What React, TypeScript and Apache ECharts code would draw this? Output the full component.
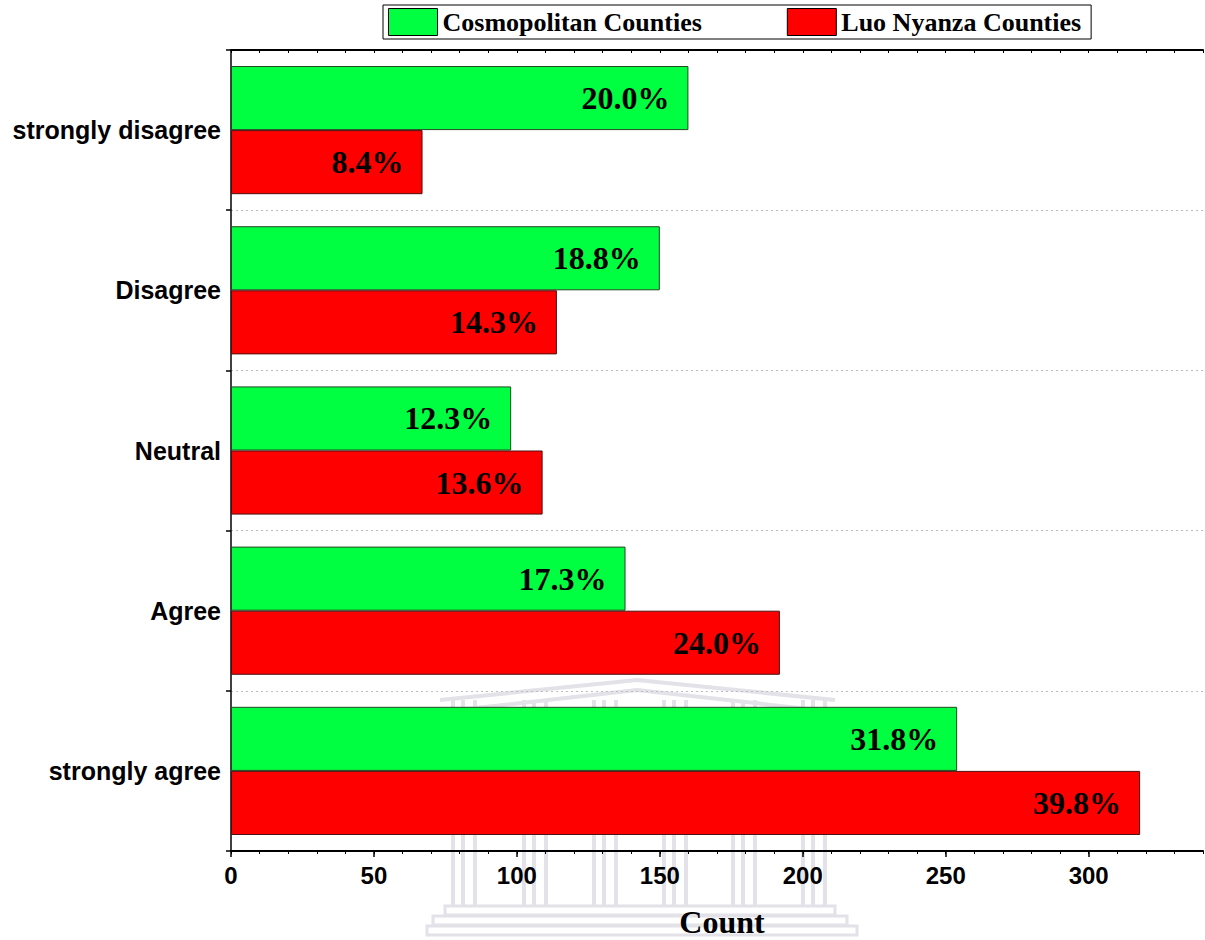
import React, { useEffect, useRef } from "react";
import * as echarts from "echarts";

// Response categories, top to bottom
const categories = ["strongly disagree", "Disagree", "Neutral", "Agree", "strongly agree"];
const seriesNames = ["Cosmopolitan Counties", "Luo Nyanza Counties"];
// Respondent counts per category
const cosmopolitanCounts = [160, 150, 98, 138, 254];
const luoNyanzaCounts = [67, 114, 109, 192, 318];
// Count axis
const axisMax = 340;
const majorTicks = [0, 50, 100, 150, 200, 250, 300];

const sum = (a: number[]) => a.reduce((s, v) => s + v, 0);

function percentLabel(values: number[]) {
  const total = sum(values);
  return (p: any) => (Math.round((p.value * 1000) / total) / 10).toFixed(1) + "%";
}

// Faint crest drawn behind the plot
function crest(): any[] {
  const stroke = "#e2e2e8";
  const els: any[] = [];
  els.push({
    type: "polyline",
    z: -5,
    shape: { points: [[440, 700], [637, 680], [835, 700]] },
    style: { stroke, lineWidth: 4, fill: "none" },
  });
  els.push({
    type: "polyline",
    z: -5,
    shape: { points: [[440, 712], [637, 690], [835, 712]] },
    style: { stroke, lineWidth: 4, fill: "none" },
  });
  const centers = [463, 534, 604, 674, 743, 813];
  centers.forEach((c) => {
    [-10, 0, 12].forEach((o) => {
      els.push({
        type: "rect",
        z: -5,
        shape: { x: c + o - 2, y: 700, width: 4, height: 205 },
        style: { fill: stroke },
      });
    });
  });
  const steps = [
    [445, 906, 390],
    [433, 916, 414],
    [427, 926, 430],
  ];
  steps.forEach(([x, y, w]) => {
    els.push({
      type: "rect",
      z: -5,
      shape: { x, y, width: w, height: 9 },
      style: { fill: "none", stroke, lineWidth: 3 },
    });
  });
  return els;
}

export default function App() {
  const ref = useRef<HTMLDivElement>(null);

  useEffect(() => {
    if (!ref.current) return;
    const chart = echarts.init(ref.current, null, { renderer: "svg" });
    const sans = "Liberation Sans, Arial, sans-serif";
    const serif = "Liberation Serif, Times New Roman, serif";

    const labelStyle = {
      show: true,
      position: "insideRight",
      distance: 19,
      color: "#000",
      fontFamily: serif,
      fontWeight: "bold",
      fontSize: 32,
    };

    chart.setOption({
      animation: false,
      backgroundColor: "#fff",
      graphic: crest(),
      legend: {
        data: seriesNames,
        left: 383,
        top: 5,
        orient: "horizontal",
        icon: "rect",
        itemWidth: 49,
        itemHeight: 27,
        itemGap: 85,
        borderColor: "#000",
        borderWidth: 1,
        padding: [3, 10, 3, 5],
        itemStyle: { borderColor: "#000", borderWidth: 1 },
        textStyle: { color: "#000", fontFamily: serif, fontWeight: "bold", fontSize: 26 },
      },
      grid: {
        left: 231,
        right: 2,
        top: 50,
        bottom: 89,
        containLabel: false,
        outerBoundsMode: "none",
      },
      xAxis: [
        {
          type: "value",
          position: "bottom",
          min: 0,
          max: axisMax,
          interval: 50,
          axisLine: { show: true, lineStyle: { color: "#000", width: 2 } },
          axisTick: { show: true, length: 6, lineStyle: { color: "#000", width: 1.5 }, customValues: majorTicks },
          axisLabel: {
            customValues: majorTicks,
            color: "#000",
            fontFamily: sans,
            fontWeight: "bold",
            fontSize: 24,
            margin: 12,
          },
          splitLine: { show: false },
          name: "Count",
          nameLocation: "middle",
          nameGap: 55,
          nameTextStyle: {
            color: "#000",
            fontFamily: serif,
            fontWeight: "bold",
            fontSize: 32,
            padding: [0, 0, 0, 10],
          },
        },
        {
          type: "value",
          position: "bottom",
          min: 0,
          max: axisMax,
          interval: 10,
          axisLine: { show: false },
          axisTick: { show: true, length: 3, lineStyle: { color: "#000", width: 1 } },
          axisLabel: { show: false },
          splitLine: { show: false },
        },
        {
          type: "value",
          position: "top",
          min: 0,
          max: axisMax,
          interval: 10,
          axisLine: { show: true, lineStyle: { color: "#000", width: 2 } },
          axisTick: { show: true, inside: true, length: 3, lineStyle: { color: "#000", width: 1 } },
          axisLabel: { show: false },
          splitLine: { show: false },
        },
      ],
      yAxis: {
        type: "category",
        data: categories,
        inverse: true,
        axisLine: { show: true, lineStyle: { color: "#000", width: 1.5 } },
        axisTick: { show: true, length: 5, lineStyle: { color: "#000", width: 1.5 } },
        axisLabel: { color: "#000", fontFamily: sans, fontWeight: "bold", fontSize: 25, margin: 10 },
        splitLine: { show: true, lineStyle: { color: "#bdbdbd", type: [2, 3], width: 1 } },
      },
      series: [
        {
          name: seriesNames[0],
          type: "bar",
          xAxisIndex: 0,
          data: cosmopolitanCounts,
          barCategoryGap: "20%",
          barGap: "0%",
          itemStyle: { color: "#00ff40", borderColor: "#1f4a1f", borderWidth: 1 },
          label: { ...labelStyle, formatter: percentLabel(cosmopolitanCounts) },
        },
        {
          name: seriesNames[1],
          type: "bar",
          xAxisIndex: 0,
          data: luoNyanzaCounts,
          barCategoryGap: "20%",
          barGap: "0%",
          itemStyle: { color: "#ff0000", borderColor: "#4a1010", borderWidth: 1 },
          label: { ...labelStyle, formatter: percentLabel(luoNyanzaCounts) },
        },
      ],
    });
    return () => chart.dispose();
  }, []);

  return (
    <div
      ref={ref}
      style={{ position: "fixed", left: 0, top: 0, width: 1205, height: 940 }}
    />
  );
}
